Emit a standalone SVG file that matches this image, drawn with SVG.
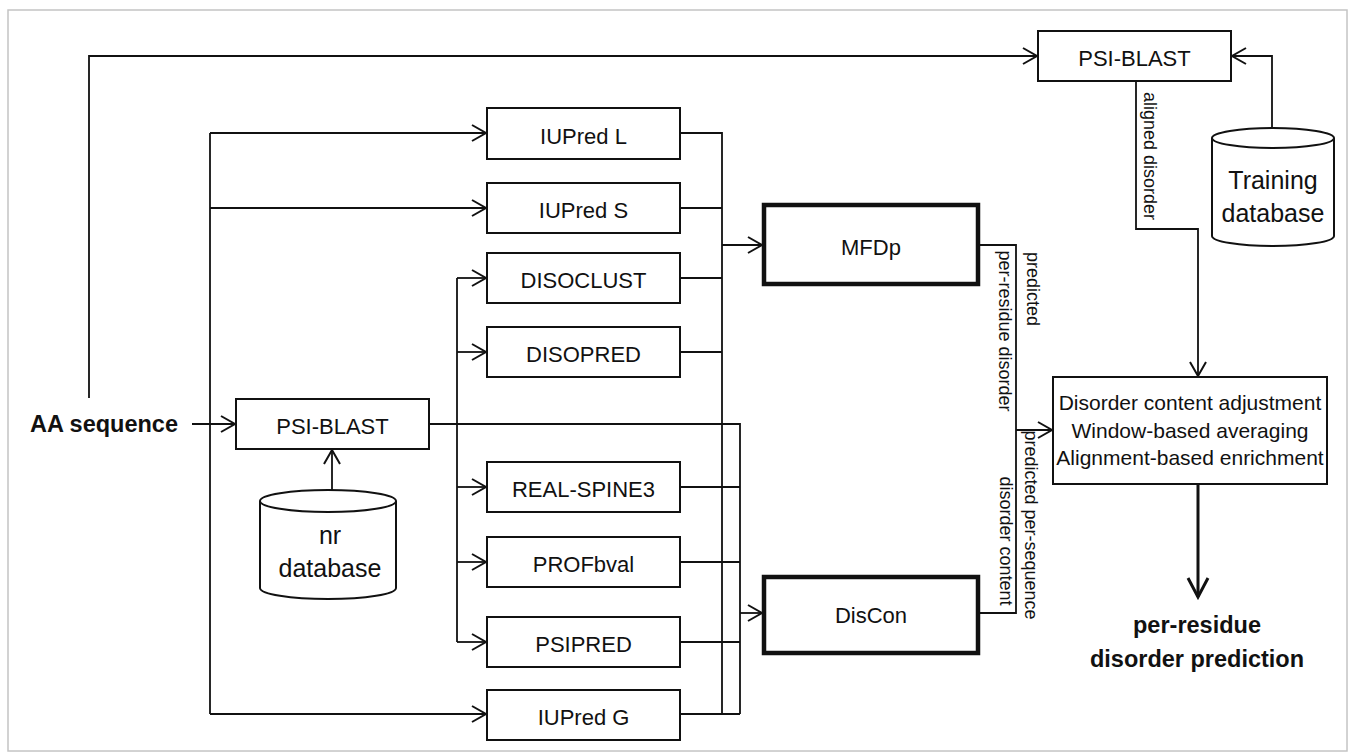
<svg xmlns="http://www.w3.org/2000/svg" width="1353" height="755" viewBox="0 0 1353 755">
<style>
text{font-family:"Liberation Sans",Arial,sans-serif;fill:#111}
.box{fill:#fff;stroke:#111;stroke-width:2}
.thick{fill:#fff;stroke:#111;stroke-width:4.5}
.lbl{font-size:22px;text-anchor:middle}
.bold{font-size:23.5px;font-weight:bold;text-anchor:middle}
.rot{font-size:18px;text-anchor:middle}
.ln{fill:none;stroke:#111;stroke-width:1.8}
.ar{marker-end:url(#arr)}
</style>
<defs>
<marker id="arr" markerUnits="userSpaceOnUse" markerWidth="20" markerHeight="20" viewBox="-16 -10 18 20" refX="0" refY="0" orient="auto">
<path d="M-14,-8 L0,0 L-14,8" fill="none" stroke="#111" stroke-width="2"/>
</marker>
<marker id="arrB" markerUnits="userSpaceOnUse" markerWidth="26" markerHeight="26" viewBox="-22 -13 24 26" refX="0" refY="0" orient="auto">
<path d="M-19,-10 L0,0 L-19,10" fill="none" stroke="#111" stroke-width="3"/>
</marker>
</defs>
<rect x="0" y="0" width="1353" height="755" fill="#fff"/>
<rect x="8" y="10" width="1339" height="741" fill="#fff" stroke="#c4c4c4" stroke-width="1.5"/>

<g id="connectors">
<path class="ln ar" d="M89,398 V56 H1037"/>
<path class="ln ar" d="M1272,128 V56 H1232"/>
<path class="ln ar" d="M1136,81 V229 H1198 V376"/>
<path class="ln ar" d="M192,424 H235"/>
<path class="ln" d="M210,133 V714"/>
<path class="ln ar" d="M210,133 H486"/>
<path class="ln ar" d="M210,208 H486"/>
<path class="ln ar" d="M210,714 H486"/>
<path class="ln ar" d="M332,490 V450"/>
<path class="ln" d="M429,424 H740 V714"/>
<path class="ln" d="M457,278 V642"/>
<path class="ln ar" d="M457,278 H486"/>
<path class="ln ar" d="M457,352 H486"/>
<path class="ln ar" d="M457,487 H486"/>
<path class="ln ar" d="M457,562 H486"/>
<path class="ln ar" d="M457,642 H486"/>
<path class="ln" d="M680,133 H722 V714"/>
<path class="ln" d="M680,208 H722"/>
<path class="ln" d="M680,278 H722"/>
<path class="ln" d="M680,352 H722"/>
<path class="ln ar" d="M722,245 H762"/>
<path class="ln" d="M680,487 H740"/>
<path class="ln" d="M680,562 H740"/>
<path class="ln" d="M680,642 H740"/>
<path class="ln" d="M680,714 H740"/>
<path class="ln ar" d="M740,613 H762"/>
<path class="ln" d="M979,245 H1016 V613 H979"/>
<path class="ln ar" d="M1016,430 H1052"/>
<path fill="none" stroke="#111" stroke-width="3" marker-end="url(#arrB)" d="M1198,484 V597"/>
<text class="rot" transform="translate(1144,156) rotate(90)">aligned disorder</text>
<text class="rot" transform="translate(1027,289) rotate(90)">predicted</text>
<text class="rot" transform="translate(999,331) rotate(90)">per-residue disorder</text>
<text class="rot" transform="translate(1025,525) rotate(90)">predicted per-sequence</text>
<text class="rot" transform="translate(1000,541) rotate(90)">disorder content</text>
</g>

<g id="aa-sequence"><text class="bold" x="104" y="432">AA sequence</text></g>

<g id="psiblast-top"><rect class="box" x="1038" y="31" width="193" height="50"/><text class="lbl" x="1134.5" y="66">PSI-BLAST</text></g>

<g id="training-db">
<path class="box" d="M1212,138 A61,10 0 0 1 1334,138 V236 A61,10 0 0 1 1212,236 Z"/>
<path class="ln" style="stroke-width:2" d="M1212,138 A61,10 0 0 0 1334,138"/>
<text class="lbl" style="font-size:25px" x="1273" y="189">Training</text>
<text class="lbl" style="font-size:25px" x="1273" y="222">database</text>
</g>

<g id="psiblast-mid"><rect class="box" x="236" y="399" width="193" height="50"/><text class="lbl" x="332.5" y="434">PSI-BLAST</text></g>

<g id="nr-db">
<path class="box" d="M264,501 A68,11 0 0 1 400,501 V588 A68,11 0 0 1 264,588 Z" transform="translate(-4,0)"/>
<path class="ln" style="stroke-width:2" d="M260,501 A68,11 0 0 0 396,501"/>
<text class="lbl" style="font-size:25px" x="330" y="544">nr</text>
<text class="lbl" style="font-size:25px" x="330" y="577">database</text>
</g>

<g id="iupred-l"><rect class="box" x="487" y="108" width="193" height="51"/><text class="lbl" x="583.5" y="144">IUPred L</text></g>
<g id="iupred-s"><rect class="box" x="487" y="183" width="193" height="50"/><text class="lbl" x="583.5" y="218">IUPred S</text></g>
<g id="disoclust"><rect class="box" x="487" y="253" width="193" height="50"/><text class="lbl" x="583.5" y="288">DISOCLUST</text></g>
<g id="disopred"><rect class="box" x="487" y="327" width="193" height="50"/><text class="lbl" x="583.5" y="362">DISOPRED</text></g>
<g id="real-spine3"><rect class="box" x="487" y="462" width="193" height="50"/><text class="lbl" x="583.5" y="497">REAL-SPINE3</text></g>
<g id="profbval"><rect class="box" x="487" y="537" width="193" height="50"/><text class="lbl" x="583.5" y="572">PROFbval</text></g>
<g id="psipred"><rect class="box" x="487" y="617" width="193" height="50"/><text class="lbl" x="583.5" y="652">PSIPRED</text></g>
<g id="iupred-g"><rect class="box" x="487" y="690" width="193" height="50"/><text class="lbl" x="583.5" y="725">IUPred G</text></g>

<g id="mfdp"><rect class="thick" x="764" y="205" width="214" height="79"/><text class="lbl" x="871" y="255">MFDp</text></g>
<g id="discon"><rect class="thick" x="764" y="577" width="214" height="76"/><text class="lbl" x="871" y="623">DisCon</text></g>

<g id="postprocess">
<rect class="box" x="1053" y="377" width="274" height="107"/>
<text class="lbl" style="font-size:21px" x="1190" y="410">Disorder content adjustment</text>
<text class="lbl" style="font-size:21px" x="1190" y="438">Window-based averaging</text>
<text class="lbl" style="font-size:21px" x="1190" y="465">Alignment-based enrichment</text>
</g>

<g id="output">
<text class="bold" x="1197" y="633">per-residue</text>
<text class="bold" x="1197" y="667">disorder prediction</text>
</g>
</svg>
